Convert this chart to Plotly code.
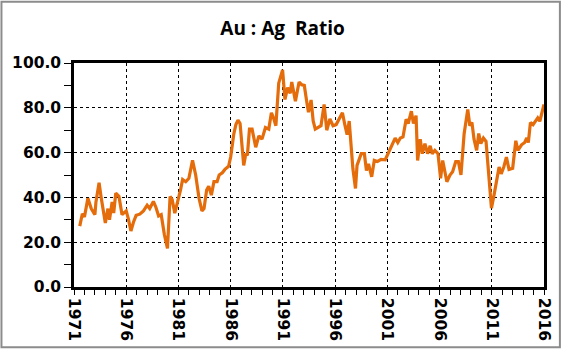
import plotly.graph_objects as go

# Year (decimal) and Au:Ag ratio values
years = [1971.55, 1971.8, 1972.0, 1972.33, 1972.65, 1973.0, 1973.1, 1973.4, 1973.6, 1973.85,
         1974.0, 1974.25, 1974.4, 1974.65, 1974.8, 1975.0, 1975.3, 1975.6, 1976.0, 1976.2,
         1976.45, 1976.7, 1976.95, 1977.3, 1977.65, 1978.0, 1978.25, 1978.6, 1978.85, 1979.1,
         1979.35, 1979.65, 1979.95, 1980.2, 1980.4, 1980.65, 1980.9, 1981.2, 1981.4, 1981.7,
         1982.0, 1982.35, 1982.65, 1982.97, 1983.25, 1983.45, 1983.7, 1983.9, 1984.15, 1984.4,
         1984.7, 1984.9, 1985.2, 1985.45, 1985.8, 1986.0, 1986.3, 1986.5, 1986.7, 1986.9,
         1987.05, 1987.25, 1987.45, 1987.6, 1987.8, 1988.05, 1988.4, 1988.7, 1989.0, 1989.33,
         1989.65, 1989.9, 1990.1, 1990.33, 1990.6, 1990.75, 1990.97, 1991.2, 1991.45, 1991.7,
         1991.85, 1992.2, 1992.55, 1992.8, 1993.05, 1993.3, 1993.45, 1993.7, 1993.9, 1994.1,
         1994.4, 1994.65, 1994.95, 1995.2, 1995.5, 1995.8, 1996.1, 1996.4, 1996.7, 1996.95,
         1997.15, 1997.35, 1997.5, 1997.7, 1997.95, 1998.1, 1998.5, 1998.8, 1999.0, 1999.2,
         1999.5, 1999.75, 2000.05, 2000.4, 2000.8, 2001.1, 2001.55, 2001.75, 2002.0, 2002.25,
         2002.5, 2002.8, 2003.0, 2003.3, 2003.5, 2003.75, 2003.9, 2004.15, 2004.35, 2004.6,
         2004.85, 2005.1, 2005.3, 2005.55, 2005.85, 2006.1, 2006.3, 2006.45, 2006.7, 2007.0,
         2007.25, 2007.55, 2007.8, 2008.05, 2008.35, 2008.7, 2008.9, 2009.1, 2009.3, 2009.55,
         2009.75, 2009.95, 2010.2, 2010.45, 2010.75, 2010.97, 2011.25, 2011.45, 2011.7, 2011.9,
         2012.15, 2012.4, 2012.65, 2013.0, 2013.3, 2013.5, 2013.85, 2014.15, 2014.35, 2014.5,
         2014.7, 2014.95, 2015.2, 2015.4, 2015.6, 2015.8, 2016.0]
ratio = [27.2, 32.7, 31.3, 39.6, 35.0, 32.3, 37.9, 46.5, 40.0, 33.0,
         28.6, 35.0, 30.0, 38.0, 33.0, 41.9, 40.5, 32.3, 34.0, 30.5,
         25.0, 29.0, 32.0, 32.5, 34.0, 36.5, 35.0, 38.2, 35.5, 31.7,
         32.3, 23.5, 17.2, 40.4, 39.0, 33.0, 37.5, 43.3, 48.0, 47.0,
         48.5, 56.5, 50.0, 39.6, 34.0, 35.0, 43.3, 45.0, 41.0, 47.0,
         47.0, 50.0, 51.0, 52.5, 53.9, 58.0, 68.3, 72.5, 74.5, 73.0,
         65.0, 54.3, 59.5, 58.8, 70.5, 70.5, 62.4, 67.5, 66.0, 71.2,
         70.5, 77.8, 75.5, 72.0, 91.0, 93.3, 96.9, 83.7, 89.0, 86.5,
         91.5, 83.0, 91.5, 90.3, 90.0, 82.2, 78.0, 83.5, 74.1, 70.5,
         71.5, 72.0, 81.5, 70.0, 75.0, 72.0, 72.5, 75.5, 77.8, 72.0,
         68.0, 74.1, 66.0, 52.9, 44.0, 54.3, 59.5, 59.5, 52.0, 55.0,
         49.2, 56.5, 56.0, 57.0, 56.8, 60.0, 63.9, 66.5, 64.5, 66.5,
         67.0, 74.9, 73.0, 78.5, 73.0, 76.5, 56.5, 66.0, 59.5, 64.0,
         59.5, 63.0, 59.5, 61.0, 59.5, 48.5, 56.5, 53.0, 47.0, 50.0,
         51.5, 56.0, 56.0, 50.0, 68.3, 79.3, 72.0, 73.5, 66.0, 61.0,
         68.5, 64.0, 66.5, 65.0, 48.5, 35.2, 41.9, 47.0, 53.6, 50.5,
         53.6, 58.0, 52.5, 53.0, 65.3, 61.0, 63.5, 64.5, 66.5, 64.5,
         73.4, 72.5, 74.0, 75.5, 74.0, 77.8, 81.5]

x_ticks = list(range(1971, 2017, 5))
x_labels = [str(v) for v in x_ticks]
y_ticks = [0, 20, 40, 60, 80, 100]
y_labels = ["%.1f" % v for v in y_ticks]
title_text = "Au : Ag\u00a0\u00a0Ratio"

fig = go.Figure()
fig.add_trace(go.Scatter(x=years, y=ratio, mode="lines",
                         line=dict(color="#E46C0A", width=3.2), hoverinfo="skip"))

L, R, T, B = 74, 18, 63, 63
W, H = 565, 353
pw, ph = W - L - R, H - T - B

fig.update_layout(
    width=W, height=H,
    margin=dict(l=L, r=R, t=T, b=B),
    paper_bgcolor="white", plot_bgcolor="white",
    showlegend=False,
    title=dict(text="<b>" + title_text + "</b>", x=0.5, xref="container", xanchor="center",
               y=1 - 28 / H, yref="container", yanchor="middle",
               font=dict(family="Open Sans", size=19, color="black")),
    font=dict(family="DejaVu Sans", color="black"),
)
fig.update_xaxes(
    range=[1971, 2016], tickmode="array", tickvals=x_ticks, ticktext=["<b>%s</b>" % t for t in x_labels],
    tickangle=90, tickfont=dict(size=15.5, family="DejaVu Sans"),
    showline=True, linecolor="black", linewidth=2.5, mirror=True,
    ticks="outside", ticklen=5, tickcolor="black", tickwidth=1,
    showgrid=True, gridcolor="black", gridwidth=1, griddash="3px,3px",
    minor=dict(tickmode="linear", tick0=1971, dtick=1, ticks="outside", ticklen=5,
               tickcolor="black", showgrid=False),
    zeroline=False,
)
fig.update_yaxes(
    range=[0, 100], tickmode="array", tickvals=y_ticks, ticktext=["<b>%s</b>" % t for t in y_labels],
    tickfont=dict(size=15.5, family="DejaVu Sans"),
    showline=True, linecolor="black", linewidth=2.5, mirror=True,
    ticks="outside", ticklen=7, tickcolor="black", tickwidth=1,
    showgrid=True, gridcolor="black", gridwidth=1, griddash="3px,3px",
    minor=dict(tickmode="linear", tick0=0, dtick=10, ticks="outside", ticklen=7,
               tickcolor="black", showgrid=False),
    zeroline=False,
)
# outer chart border
fig.add_shape(type="rect", xref="paper", yref="paper",
              x0=(1 - L) / pw, x1=(W - 2 - L) / pw,
              y0=(H - B - (H - 2)) / ph, y1=(H - B - 1) / ph,
              line=dict(color="#8C8C8C", width=2), layer="below")

fig.write_html("out.html", config={"displayModeBar": False},
               post_script="document.body.style.margin='0';document.body.style.overflow='hidden';")
